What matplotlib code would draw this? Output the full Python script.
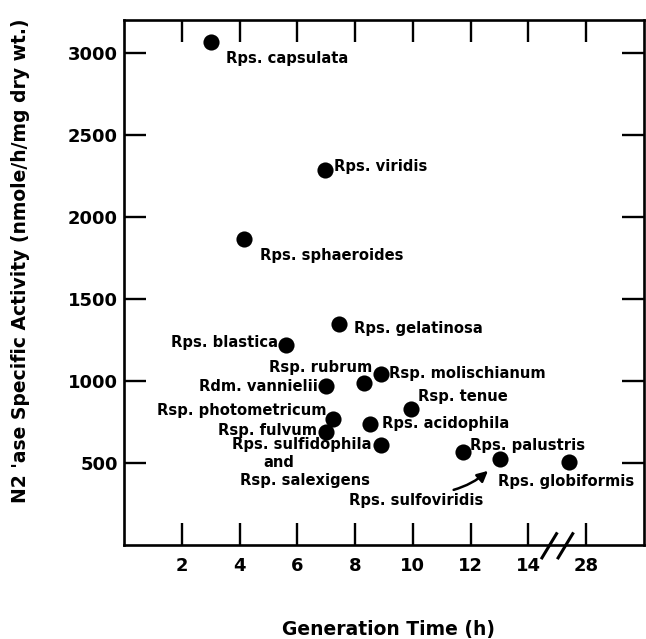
import matplotlib
matplotlib.use("Agg")
import matplotlib.pyplot as plt
import matplotlib.transforms as mtransforms

# data
species = [
    "Rps. capsulata", "Rps. viridis", "Rps. sphaeroides", "Rps. gelatinosa",
    "Rps. blastica", "Rsp. rubrum", "Rsp. molischianum", "Rdm. vannielii",
    "Rsp. tenue", "Rsp. photometricum", "Rps. acidophila", "Rsp. fulvum",
    "Rps. sulfidophila\nand\nRsp. salexigens", "Rps. palustris",
    "Rps. sulfoviridis", "Rps. globiformis",
]
generation_time = [3.0, 6.95, 4.15, 7.45, 5.6, 8.3, 8.9, 7.0,
                   9.95, 7.25, 8.5, 7.0, 8.9, 11.75, 13.0, 27.4]
activity = [3065, 2285, 1865, 1345, 1220, 988, 1043, 968,
            828, 768, 740, 688, 612, 565, 525, 503]

x_ticks = [2, 4, 6, 8, 10, 12, 14, 28]
y_ticks = [500, 1000, 1500, 2000, 2500, 3000]

# broken x axis: everything past 14 h is shifted left
BREAK_AT = 14
BREAK_SHIFT = 12


def to_axis(x):
    return x if x <= BREAK_AT else x - BREAK_SHIFT


# label placement: offsets in pixels from the dot, one entry per text line
label_layout = {
    "Rps. capsulata": [(15, -16, "left")],
    "Rps. viridis": [(9, 4, "left")],
    "Rps. sphaeroides": [(16, -16, "left")],
    "Rps. gelatinosa": [(15, -4, "left")],
    "Rps. blastica": [(-8, 2, "right")],
    "Rsp. rubrum": [(8, 15, "right")],
    "Rsp. molischianum": [(8, 0, "left")],
    "Rdm. vannielii": [(-8, 0, "right")],
    "Rsp. tenue": [(7, 13, "left")],
    "Rsp. photometricum": [(-7, 8, "right")],
    "Rps. acidophila": [(12, 0, "left")],
    "Rsp. fulvum": [(-9, 2, "right")],
    "Rps. sulfidophila\nand\nRsp. salexigens": [(-10, 0, "right"),
                                                 (-102, -18, "center"),
                                                 (-11, -36, "right")],
    "Rps. palustris": [(7, 7, "left")],
    "Rps. globiformis": [(-3, -19, "center")],
}

plt.rcParams['font.family'] = ['DejaVu Sans']
plt.rcParams['font.weight'] = 'bold'

fig = plt.figure(figsize=(6.46, 6.39), dpi=100)
ax = fig.add_axes([124 / 646, 1 - 545 / 639, 520 / 646, 525 / 639])

xs = [to_axis(x) for x in generation_time]
ax.scatter(xs, activity, s=135, color='black', zorder=3, linewidths=0)

for name, x, y in zip(species, xs, activity):
    if name not in label_layout:
        continue
    for line, (dx, dy, ha) in zip(name.split("\n"), label_layout[name]):
        ax.annotate(line, (x, y), xytext=(dx, dy), textcoords='offset pixels',
                    ha=ha, va='center', fontsize=10.6, fontweight='bold')

# Rps. sulfoviridis gets an arrow
i = species.index("Rps. sulfoviridis")
ax.annotate(species[i], (xs[i], activity[i]), xytext=(-83, -42),
            textcoords='offset pixels', ha='center', va='center',
            fontsize=10.6, fontweight='bold',
            arrowprops=dict(arrowstyle='-|>,head_length=0.6,head_width=0.3',
                            color='black', lw=1.8, shrinkA=2, shrinkB=12,
                            relpos=(0.53, 1.0),
                            connectionstyle='arc3,rad=0.25'))

ax.set_xlim(0, 18)
ax.set_ylim(0, 3200)
ax.set_xticks([to_axis(x) for x in x_ticks])
ax.set_xticklabels([str(x) for x in x_ticks])
ax.set_yticks(y_ticks)
ax.set_yticklabels([str(y) for y in y_ticks])
ax.tick_params(direction='in', length=15.8, width=1.7, top=True, right=True,
               labelsize=13)
ax.tick_params(axis='x', pad=8.5)
ax.tick_params(axis='y', pad=4.5)
for lbl in ax.get_xticklabels() + ax.get_yticklabels():
    lbl.set_fontweight('bold')
for sp in ax.spines.values():
    sp.set_linewidth(1.9)

# break marks on the bottom axis
trans = mtransforms.blended_transform_factory(ax.transData, ax.transAxes)
for cx in (14.72, 15.28):
    ax.plot([cx - 0.28, cx + 0.28], [-0.027, 0.024], color='black', lw=2.2,
            transform=trans, clip_on=False, solid_capstyle='butt')

fig.text(389 / 646, 1 - 630 / 639, "Generation Time (h)", ha='center',
         va='center', fontsize=13.5, fontweight='bold')
fig.text(21 / 646, 1 - 261 / 639,
         "N2 'ase Specific Activity (nmole/h/mg dry wt.)", rotation=90,
         ha='center', va='center', fontsize=13.5, fontweight='bold')

fig.savefig("out.png", dpi=100)
